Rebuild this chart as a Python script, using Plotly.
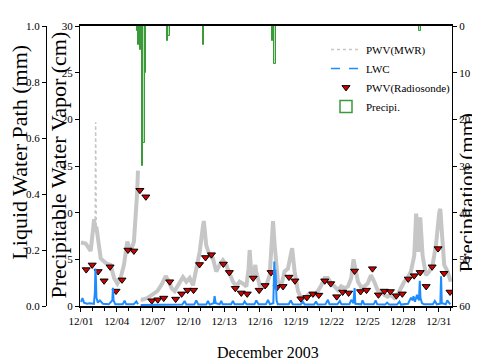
import plotly.graph_objects as go

# ---------------- data ----------------
# PWV from microwave radiometer (cm); None marks the data gap
mwr_time = ["2003-12-01 00:00", "2003-12-01 09:20", "2003-12-01 19:30", "2003-12-02 02:25", "2003-12-02 04:20",
            "2003-12-02 06:40", "2003-12-02 09:00", "2003-12-02 15:40", "2003-12-03 01:40",
            "2003-12-03 11:45", "2003-12-03 18:30", "2003-12-04 01:10", "2003-12-04 07:40", "2003-12-04 14:25",
            "2003-12-04 21:10", "2003-12-05 03:50", "2003-12-05 10:30", "2003-12-05 14:00", "2003-12-05 16:50",
            "2003-12-05 18:40", "2003-12-05 21:00",
            "2003-12-06 00:00", "2003-12-06 03:20", "2003-12-06 13:25", "2003-12-06 23:30", "2003-12-07 09:35",
            "2003-12-07 19:25", "2003-12-08 02:25", "2003-12-08 09:10", "2003-12-08 14:25", "2003-12-08 20:25",
            "2003-12-09 03:10", "2003-12-09 13:10", "2003-12-09 19:55", "2003-12-10 02:40", "2003-12-10 09:20",
            "2003-12-10 15:50", "2003-12-10 22:50", "2003-12-11 05:30", "2003-12-11 07:10", "2003-12-11 12:00",
            "2003-12-11 19:00", "2003-12-12 01:25", "2003-12-12 08:10", "2003-12-12 14:53", "2003-12-12 21:36",
            "2003-12-13 04:20", "2003-12-13 11:00", "2003-12-13 17:45", "2003-12-14 00:30", "2003-12-14 07:10",
            "2003-12-14 13:55", "2003-12-14 20:40", "2003-12-15 01:10", "2003-12-15 03:20", "2003-12-15 06:00",
            "2003-12-15 10:05", "2003-12-15 14:50", "2003-12-15 16:30", "2003-12-15 23:30", "2003-12-16 09:35",
            "2003-12-16 12:45", "2003-12-16 19:40", "2003-12-17 01:00", "2003-12-17 02:25", "2003-12-17 05:45",
            "2003-12-17 12:15", "2003-12-17 19:00", "2003-12-18 01:40", "2003-12-18 08:25", "2003-12-18 15:10",
            "2003-12-18 16:50", "2003-12-18 21:50", "2003-12-19 04:35", "2003-12-19 11:15", "2003-12-19 18:00",
            "2003-12-20 00:45", "2003-12-20 07:10", "2003-12-20 13:55", "2003-12-20 20:40", "2003-12-21 03:20",
            "2003-12-21 10:05", "2003-12-21 16:50", "2003-12-21 23:30", "2003-12-22 06:15", "2003-12-22 13:00",
            "2003-12-22 19:40", "2003-12-23 02:25", "2003-12-23 09:10", "2003-12-23 15:50", "2003-12-23 20:25",
            "2003-12-23 22:35", "2003-12-24 05:15", "2003-12-24 12:00", "2003-12-24 18:00", "2003-12-25 00:45",
            "2003-12-25 07:25", "2003-12-25 14:10", "2003-12-25 20:50", "2003-12-26 03:35", "2003-12-26 10:05",
            "2003-12-26 16:50", "2003-12-26 23:30", "2003-12-27 06:15", "2003-12-27 13:00", "2003-12-27 19:40",
            "2003-12-28 02:25", "2003-12-28 09:10", "2003-12-28 15:50", "2003-12-28 22:35", "2003-12-29 02:25",
            "2003-12-29 04:50", "2003-12-29 07:10", "2003-12-29 10:35", "2003-12-29 15:20", "2003-12-29 22:05",
            "2003-12-30 04:50", "2003-12-30 11:30", "2003-12-30 18:15", "2003-12-31 00:45", "2003-12-31 03:00",
            "2003-12-31 06:15", "2003-12-31 10:50", "2003-12-31 17:45", "2004-01-01 00:00"]
mwr_pwv = [6.8, 6.7, 5.9, 9.3, 8.0,
           8.5, 7.7, 5.1, 4.6,
           4.4, 3.0, 2.4, 3.0, 4.4,
           6.9, 5.8, 6.9, 9.3, 12.0,
           14.5, None,
           0.7, 0.67, 0.85, 1.2, 1.6,
           2.4, 3.2, 2.6, 1.9, 1.6,
           2.2, 3.1, 2.6, 3.0, 2.2,
           4.0, 5.8, 8.6, 9.1, 6.5,
           5.4, 5.1, 3.7, 4.4, 4.9,
           4.4, 3.5, 2.6, 2.1, 2.6,
           2.4, 2.1, 4.0, 6.0, 4.0,
           3.0, 4.4, 3.7, 2.2, 2.2,
           2.2, 3.3, 7.9, 9.1, 6.5,
           2.6, 2.2, 3.7, 4.0, 5.8,
           6.2, 3.7, 1.6, 0.85, 0.85,
           1.2, 1.3, 1.2, 1.6, 2.2,
           3.0, 3.0, 2.4, 2.1, 1.7,
           2.1, 1.9, 2.1, 3.0, 5.0,
           4.4, 2.6, 2.0, 2.1, 2.4,
           3.3, 2.6, 1.7, 1.6, 1.2,
           1.0, 1.2, 0.85, 1.2, 1.9,
           2.6, 3.0, 3.7, 5.4, 9.9,
           8.0, 5.8, 9.5, 5.4, 3.3,
           3.7, 4.4, 6.5, 10.0, 10.4,
           7.8, 4.4, 3.7, 2.6]

# sparse MWR spike on 12/02 (cm)
mwr_spike_time = ["2003-12-02 04:20", "2003-12-02 05:30", "2003-12-02 06:40"]
mwr_spike_pwv = [8.0, 19.7, 8.5]

# Liquid water (mm); None marks the data gap
lwc_time = ["2003-12-01 00:00", "2003-12-01 03:00", "2003-12-01 06:00", "2003-12-01 12:00", "2003-12-01 18:00",
            "2003-12-02 02:00", "2003-12-02 04:00", "2003-12-02 05:00", "2003-12-02 06:00", "2003-12-02 07:00",
            "2003-12-02 10:00", "2003-12-02 14:00", "2003-12-02 20:00", "2003-12-03 08:00", "2003-12-03 15:00",
            "2003-12-03 16:20", "2003-12-03 17:30", "2003-12-03 21:00", "2003-12-04 12:00", "2003-12-04 15:50",
            "2003-12-04 19:00", "2003-12-05 10:00", "2003-12-05 15:20", "2003-12-05 18:40", "2003-12-05 21:00",
            "2003-12-06 00:00", "2003-12-07 00:00", "2003-12-08 00:00", "2003-12-08 12:00", "2003-12-09 12:00",
            "2003-12-09 16:30", "2003-12-09 20:00", "2003-12-10 12:00", "2003-12-10 16:00", "2003-12-10 20:00",
            "2003-12-11 12:00", "2003-12-11 15:30", "2003-12-11 19:00", "2003-12-12 03:00", "2003-12-12 04:50",
            "2003-12-12 07:00", "2003-12-12 15:00", "2003-12-12 18:15", "2003-12-12 21:00", "2003-12-13 14:00",
            "2003-12-13 17:45", "2003-12-13 21:00", "2003-12-14 14:00", "2003-12-14 17:15", "2003-12-14 21:00",
            "2003-12-15 13:00", "2003-12-15 16:50", "2003-12-15 21:00", "2003-12-16 12:00", "2003-12-16 16:20",
            "2003-12-16 20:00", "2003-12-17 03:00", "2003-12-17 04:00", "2003-12-17 05:00", "2003-12-17 06:00",
            "2003-12-17 07:00", "2003-12-17 08:00", "2003-12-17 09:30", "2003-12-17 12:00", "2003-12-18 10:00",
            "2003-12-18 14:00", "2003-12-18 18:00", "2003-12-19 10:00", "2003-12-19 14:30", "2003-12-19 18:00",
            "2003-12-20 13:00", "2003-12-20 16:50", "2003-12-20 20:00", "2003-12-21 12:00", "2003-12-21 16:50",
            "2003-12-21 20:00", "2003-12-22 12:00", "2003-12-22 16:50", "2003-12-22 20:00", "2003-12-23 12:00",
            "2003-12-23 15:50", "2003-12-23 20:00", "2003-12-23 22:30", "2003-12-24 00:00", "2003-12-24 12:00",
            "2003-12-24 14:30", "2003-12-24 18:00", "2003-12-25 13:00", "2003-12-25 16:50", "2003-12-25 20:00",
            "2003-12-26 12:00", "2003-12-26 16:00", "2003-12-26 20:00", "2003-12-27 12:00", "2003-12-27 16:50",
            "2003-12-27 20:00", "2003-12-28 10:00", "2003-12-28 16:00", "2003-12-28 19:00", "2003-12-28 21:00",
            "2003-12-29 00:00", "2003-12-29 04:00", "2003-12-29 08:00", "2003-12-29 09:40", "2003-12-29 11:00",
            "2003-12-29 14:00", "2003-12-29 18:00", "2003-12-30 12:00", "2003-12-30 16:00", "2003-12-30 20:00",
            "2003-12-31 03:00", "2003-12-31 04:30", "2003-12-31 06:00", "2003-12-31 14:00", "2003-12-31 17:00",
            "2003-12-31 23:00"]
lwc_val = [0.015, 0.028, 0.012, 0.008, 0.010,
           0.008, 0.050, 0.134, 0.100, 0.030,
           0.012, 0.020, 0.008, 0.006, 0.020,
           0.065, 0.020, 0.006, 0.006, 0.019,
           0.006, 0.006, 0.016, 0.006, None,
           0.004, 0.004, 0.005, 0.004, 0.005,
           0.018, 0.005, 0.005, 0.020, 0.005,
           0.005, 0.018, 0.005, 0.010, 0.035,
           0.010, 0.006, 0.018, 0.006, 0.006,
           0.018, 0.006, 0.006, 0.016, 0.006,
           0.006, 0.020, 0.006, 0.006, 0.022,
           0.006, 0.010, 0.090, 0.159, 0.060,
           0.130, 0.100, 0.020, 0.006, 0.006,
           0.020, 0.006, 0.005, 0.015, 0.005,
           0.005, 0.016, 0.005, 0.006, 0.022,
           0.006, 0.006, 0.018, 0.006, 0.006,
           0.022, 0.010, 0.064, 0.008, 0.006,
           0.020, 0.006, 0.006, 0.020, 0.006,
           0.005, 0.012, 0.005, 0.005, 0.016,
           0.005, 0.008, 0.030, 0.020, 0.035,
           0.015, 0.040, 0.020, 0.090, 0.030,
           0.010, 0.006, 0.006, 0.018, 0.006,
           0.008, 0.106, 0.010, 0.006, 0.020,
           0.006]

# Radiosonde PWV (cm)
sonde_time = ["2003-12-01 10:30", "2003-12-01 22:30", "2003-12-02 10:30", "2003-12-02 22:30", "2003-12-03 10:30",
              "2003-12-03 22:30", "2003-12-04 10:30", "2003-12-04 22:30", "2003-12-05 10:30", "2003-12-05 22:30",
              "2003-12-06 10:30", "2003-12-06 22:30", "2003-12-07 10:30", "2003-12-07 22:30", "2003-12-08 10:30",
              "2003-12-08 22:30", "2003-12-09 10:30", "2003-12-09 22:30", "2003-12-10 10:30", "2003-12-10 22:30",
              "2003-12-11 10:30", "2003-12-11 22:30", "2003-12-12 22:30", "2003-12-13 10:30", "2003-12-13 22:30",
              "2003-12-14 10:30", "2003-12-14 22:30", "2003-12-15 10:30", "2003-12-15 22:30", "2003-12-16 10:30",
              "2003-12-16 22:30", "2003-12-17 10:30", "2003-12-17 22:30", "2003-12-18 10:30", "2003-12-18 22:30",
              "2003-12-19 10:30", "2003-12-19 22:30", "2003-12-20 10:30", "2003-12-20 22:30", "2003-12-21 10:30",
              "2003-12-21 22:30", "2003-12-22 10:30", "2003-12-22 22:30", "2003-12-23 10:30", "2003-12-23 22:30",
              "2003-12-24 10:30", "2003-12-24 22:30", "2003-12-25 10:30", "2003-12-25 22:30", "2003-12-26 10:30",
              "2003-12-26 22:30", "2003-12-27 10:30", "2003-12-27 22:30", "2003-12-28 10:30", "2003-12-28 22:30",
              "2003-12-29 10:30", "2003-12-29 22:30", "2003-12-30 10:30", "2003-12-30 22:30", "2003-12-31 10:30",
              "2003-12-31 22:30"]
sonde_pwv = [3.9, 4.4, 3.7, 2.7, 4.2,
             1.6, 2.8, 6.0, 5.9, 12.4,
             11.7, 0.56, 0.67, 0.85, 2.6,
             0.74, 1.3, 1.7, 1.7, 4.45,
             5.2, 5.5, 4.5, 3.6, 1.9,
             1.4, 1.3, 3.0, 1.7, 2.2,
             3.6, 2.0, 2.1, 3.1, 2.7,
             0.78, 0.92, 1.3, 1.17, 2.7,
             2.4, 1.0, 1.5, 1.4, 3.75,
             1.55, 1.7, 4.0, 1.2, 1.6,
             1.55, 1.1, 1.3, 2.9, 3.25,
             3.6, 2.1, 4.2, 6.15, 3.5,
             1.5]

# Precipitation (mm)
precip_time = ["2003-12-05 17:45", "2003-12-05 20:00", "2003-12-06 00:00", "2003-12-06 04:00", "2003-12-06 06:45",
               "2003-12-06 10:00", "2003-12-08 06:00", "2003-12-08 09:00", "2003-12-11 06:30", "2003-12-17 01:40",
               "2003-12-17 06:15", "2003-12-29 09:40"]
precip_mm = [1.1, 4.0, 5.2, 30.0, 25.0,
             10.0, 3.2, 2.1, 4.1, 3.2,
             8.1, 1.0]

# ---------------- figure ----------------
FONT = "Liberation Serif, Times New Roman, serif"
GRAY = "#c6c6c6"
BLUE = "#1e8cff"
GREEN = "#3a9a3a"

fig = go.Figure()

fig.add_trace(go.Scatter(x=mwr_time, y=mwr_pwv, mode="lines", yaxis="y",
                         line=dict(color=GRAY, width=4), showlegend=False, connectgaps=False))
fig.add_trace(go.Scatter(x=mwr_spike_time, y=mwr_spike_pwv, mode="lines", yaxis="y",
                         line=dict(color=GRAY, width=1.5, dash="dot"), showlegend=False))
fig.add_trace(go.Scatter(x=lwc_time, y=lwc_val, mode="lines", yaxis="y2",
                         line=dict(color=BLUE, width=2), showlegend=False, connectgaps=False))
fig.add_trace(go.Bar(x=precip_time, y=precip_mm, yaxis="y3", showlegend=False,
                     width=3 * 3600 * 1000,
                     marker=dict(color="rgba(120,195,120,0.55)", line=dict(color=GREEN, width=1))))

# legend entries
fig.add_trace(go.Scatter(x=[None], y=[None], mode="lines", name="PWV(MWR)",
                         line=dict(color=GRAY, width=1.5, dash="dot")))
fig.add_trace(go.Scatter(x=[None], y=[None], mode="lines", name="LWC", yaxis="y2",
                         line=dict(color=BLUE, width=1.5, dash="dash")))
fig.add_trace(go.Scatter(x=sonde_time, y=sonde_pwv, mode="markers", name="PWV(Radiosonde)", yaxis="y",
                         marker=dict(symbol="triangle-down", size=7, color="#d00000",
                                     line=dict(color="black", width=1))))
fig.add_trace(go.Bar(x=[None], y=[None], yaxis="y3", name="Precipi.",
                     marker=dict(color="white", line=dict(color=GREEN, width=1.5))))

L, R, T, B = 38, 36, 15, 63
W, H = 480, 361
plot_w = W - L - R
plot_h = H - T - B
x0 = (72 - L) / plot_w

axis_common = dict(showgrid=False, zeroline=False, showline=True, linecolor="black",
                   ticks="outside", ticklen=4, tickcolor="black",
                   tickfont=dict(family=FONT, size=11, color="black"))

fig.update_layout(
    width=W, height=H,
    margin=dict(l=L, r=R, t=T, b=B),
    paper_bgcolor="white", plot_bgcolor="white",
    font=dict(family=FONT, color="black"),
    bargap=0,
    barmode="overlay",
    xaxis=dict(axis_common, domain=[x0, 1], type="date",
               range=["2003-11-30 22:00", "2004-01-01 02:30"],
               dtick=3 * 86400000, tick0="2003-12-01", tickformat="%m/%d",
               linewidth=2, mirror=True,
               minor=dict(dtick=86400000, ticks="outside", ticklen=3, tickcolor="black")),
    yaxis=dict(axis_common, range=[0, 30], dtick=5, anchor="x", linewidth=1),
    yaxis2=dict(axis_common, range=[0, 1], dtick=0.2, tickformat=".1f", overlaying="y",
                anchor="free", position=0, side="left", linewidth=1),
    yaxis3=dict(axis_common, range=[60, 0], dtick=10, overlaying="y", side="right",
                anchor="x", linewidth=1),
    legend=dict(x=(318 - L) / plot_w, y=(298 - 24) / plot_h, xanchor="left", yanchor="top",
                bgcolor="rgba(0,0,0,0)", font=dict(family=FONT, size=11, color="black"),
                itemwidth=30, tracegroupgap=0),
    showlegend=True,
)

def px_x(p):
    return (p - L) / plot_w
def px_y(p):
    return (298 - p) / plot_h

fig.add_annotation(text="Liquid Water Path (mm)", textangle=-90, xref="paper", yref="paper",
                   x=px_x(12), y=px_y(143), showarrow=False, xanchor="center", yanchor="middle",
                   font=dict(family=FONT, size=22, color="black"))
fig.add_annotation(text="Precipitable Water Vapor (cm)", textangle=-90, xref="paper", yref="paper",
                   x=px_x(51), y=px_y(156), showarrow=False, xanchor="center", yanchor="middle",
                   font=dict(family=FONT, size=22, color="black"))
fig.add_annotation(text="Precipitation (mm)", textangle=-90, xref="paper", yref="paper",
                   x=px_x(459), y=px_y(183), showarrow=False, xanchor="center", yanchor="middle",
                   font=dict(family=FONT, size=21, color="black"))
fig.add_annotation(text="December 2003", xref="paper", yref="paper",
                   x=px_x(260), y=px_y(345), showarrow=False, xanchor="center", yanchor="middle",
                   font=dict(family=FONT, size=16, color="black"))

fig.write_html("out.html")
